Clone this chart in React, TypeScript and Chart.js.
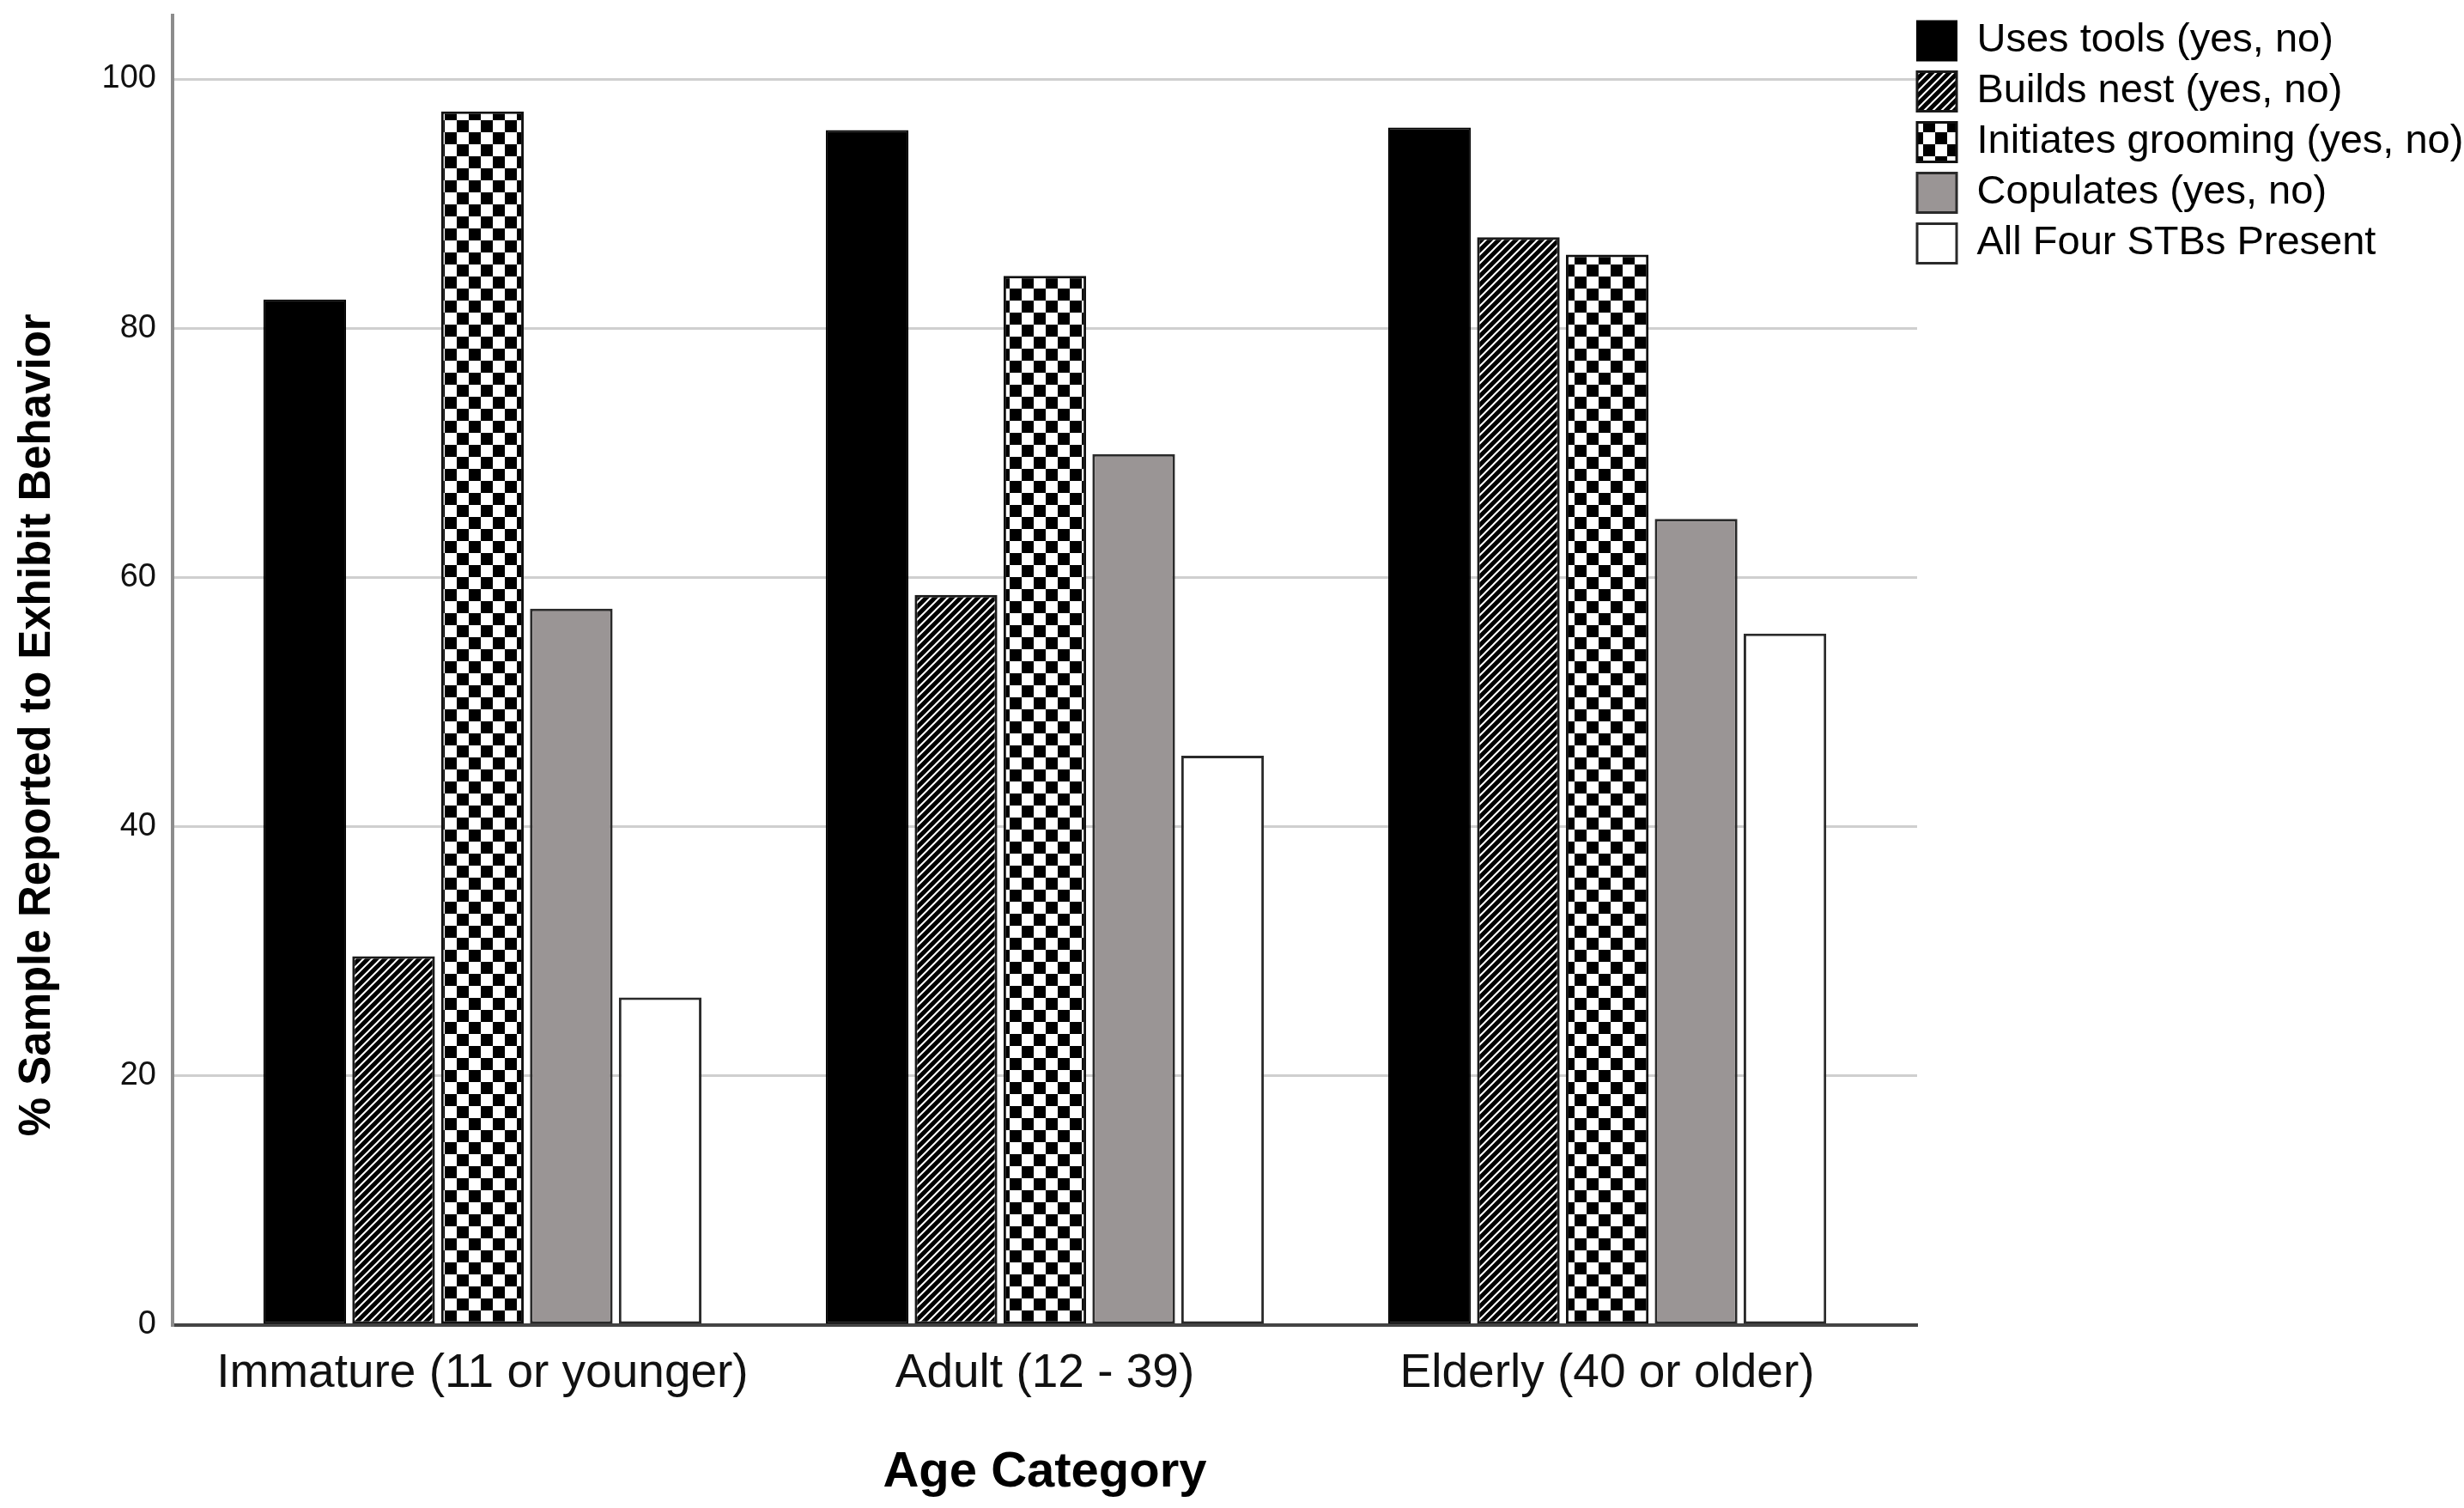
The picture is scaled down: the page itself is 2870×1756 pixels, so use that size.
import React, { useEffect, useRef } from 'react';
import { Chart, registerables } from 'chart.js';

Chart.register(...registerables);

const categories = ['Immature (11 or younger)', 'Adult (12 - 39)', 'Elderly (40 or older)'];
const seriesNames = [
  'Uses tools (yes, no)',
  'Builds nest (yes, no)',
  'Initiates grooming (yes, no)',
  'Copulates (yes, no)',
  'All Four STBs Present',
];
const usesTools = [82.3, 95.9, 96.1];
const buildsNest = [29.6, 58.6, 87.3];
const initiatesGrooming = [97.4, 84.2, 85.9];
const copulates = [57.5, 69.9, 64.7];
const allFour = [26.3, 45.7, 55.5];
const yTicks = [0, 20, 40, 60, 80, 100];

const yTitle = '% Sample Reported to Exhibit Behavior';
const xTitle = 'Age Category';
const FONT = '"Liberation Sans", Arial, sans-serif';

function stripePattern(ctx: CanvasRenderingContext2D) {
  const s = 10;
  const c = document.createElement('canvas');
  c.width = s;
  c.height = s;
  const g = c.getContext('2d')!;
  g.fillStyle = '#000';
  g.fillRect(0, 0, s, s);
  g.strokeStyle = '#fff';
  g.lineWidth = 2;
  g.beginPath();
  for (let k = -1; k <= 1; k++) {
    g.moveTo(-1, s + 1 + k * s);
    g.lineTo(s + 1, -1 + k * s);
  }
  g.stroke();
  return ctx.createPattern(c, 'repeat')!;
}

function checkerPattern(ctx: CanvasRenderingContext2D) {
  const q = 14;
  const c = document.createElement('canvas');
  c.width = q * 2;
  c.height = q * 2;
  const g = c.getContext('2d')!;
  g.fillStyle = '#fff';
  g.fillRect(0, 0, q * 2, q * 2);
  g.fillStyle = '#000';
  g.fillRect(0, 0, q, q);
  g.fillRect(q, q, q, q);
  return ctx.createPattern(c, 'repeat')!;
}

const toPoints = (arr: number[]) => arr.map((y, i) => ({ x: i, y }));

export default function App() {
  const canvasRef = useRef<HTMLCanvasElement | null>(null);

  useEffect(() => {
    document.body.style.margin = '0';
    document.body.style.overflow = 'hidden';
    const canvas = canvasRef.current!;
    const ctx = canvas.getContext('2d')!;
    const stripes = stripePattern(ctx);
    const checks = checkerPattern(ctx);

    const legendShift = {
      id: 'legendShift',
      afterLayout(chart: any) {
        const lg = chart.legend;
        if (lg) {
          lg.left = chart.chartArea.right - 12;
          lg.right = chart.width;
          lg.width = lg.right - lg.left;
          lg.top = lg.top - 6;
        }
      },
    };

    const chart = new Chart(canvas, {
      type: 'bar',
      data: {
        datasets: [
          {
            label: seriesNames[0],
            data: toPoints(usesTools),
            backgroundColor: '#000000',
            borderColor: '#000000',
            borderWidth: 2,
            borderSkipped: false,
          },
          {
            label: seriesNames[1],
            data: toPoints(buildsNest),
            backgroundColor: stripes,
            borderColor: '#1a1a1a',
            borderWidth: 3,
            borderSkipped: false,
          },
          {
            label: seriesNames[2],
            data: toPoints(initiatesGrooming),
            backgroundColor: checks,
            borderColor: '#111111',
            borderWidth: 3,
            borderSkipped: false,
          },
          {
            label: seriesNames[3],
            data: toPoints(copulates),
            backgroundColor: '#9a9595',
            borderColor: '#2a2a2a',
            borderWidth: 3,
            borderSkipped: false,
          },
          {
            label: seriesNames[4],
            data: toPoints(allFour),
            backgroundColor: '#ffffff',
            borderColor: '#2a2a2a',
            borderWidth: 3,
            borderSkipped: false,
          },
        ] as any,
      },
      options: {
        animation: false,
        responsive: true,
        maintainAspectRatio: false,
        devicePixelRatio: 1,
        layout: { padding: { top: 18, left: 0, right: 37, bottom: 0 } },
        datasets: { bar: { categoryPercentage: 0.79, barPercentage: 0.93 } },
        font: { family: FONT },
        plugins: {
          legend: {
            position: 'right',
            align: 'start',
            maxWidth: 600,
            labels: {
              boxWidth: 46,
              boxHeight: 46,
              padding: 12,
              color: '#000',
              font: { size: 47, family: FONT },
            },
          },
          tooltip: { enabled: false },
        },
        scales: {
          x: {
            type: 'linear',
            offset: false,
            min: -0.551,
            max: 2.551,
            afterBuildTicks: (s: any) => {
              s.ticks = categories.map((_, i) => ({ value: i }));
            },
            afterFit: (s: any) => {
              s.height = 213;
              s.paddingLeft = 0;
              s.paddingRight = 0;
            },
            grid: { display: false },
            border: { display: true, color: '#444444', width: 4 },
            ticks: {
              autoSkip: false,
              maxRotation: 0,
              padding: 16,
              color: '#111',
              font: { size: 55, family: FONT },
              callback: (v: any) => categories[v as number] ?? '',
            },
            title: {
              display: true,
              text: xTitle,
              color: '#000',
              font: { size: 58, weight: 'bold', family: FONT },
              padding: { top: 0, bottom: 6 },
            },
          },
          y: {
            min: 0,
            max: 105.1,
            afterBuildTicks: (s: any) => {
              s.ticks = yTicks.map((v) => ({ value: v }));
            },
            afterFit: (s: any) => {
              s.width = 201;
              s.paddingTop = 0;
              s.paddingBottom = 0;
            },
            grid: {
              color: (c: any) => (c.tick && c.tick.value === 0 ? 'rgba(0,0,0,0)' : '#cfcfcf'),
              lineWidth: 3,
              drawTicks: false,
            },
            border: { display: true, color: '#8c8c8c', width: 4 },
            ticks: {
              padding: 19,
              color: '#111',
              font: { size: 38, family: FONT },
            },
            title: {
              display: true,
              text: yTitle + '         ',
              color: '#000',
              font: { size: 51, weight: 'bold', family: FONT },
              padding: { top: 13, bottom: 0 },
            },
          },
        },
      } as any,
      plugins: [legendShift],
    });

    return () => chart.destroy();
  }, []);

  return (
    <div style={{ position: 'relative', width: '2870px', height: '1756px', background: '#fff' }}>
      <canvas ref={canvasRef} />
    </div>
  );
}
